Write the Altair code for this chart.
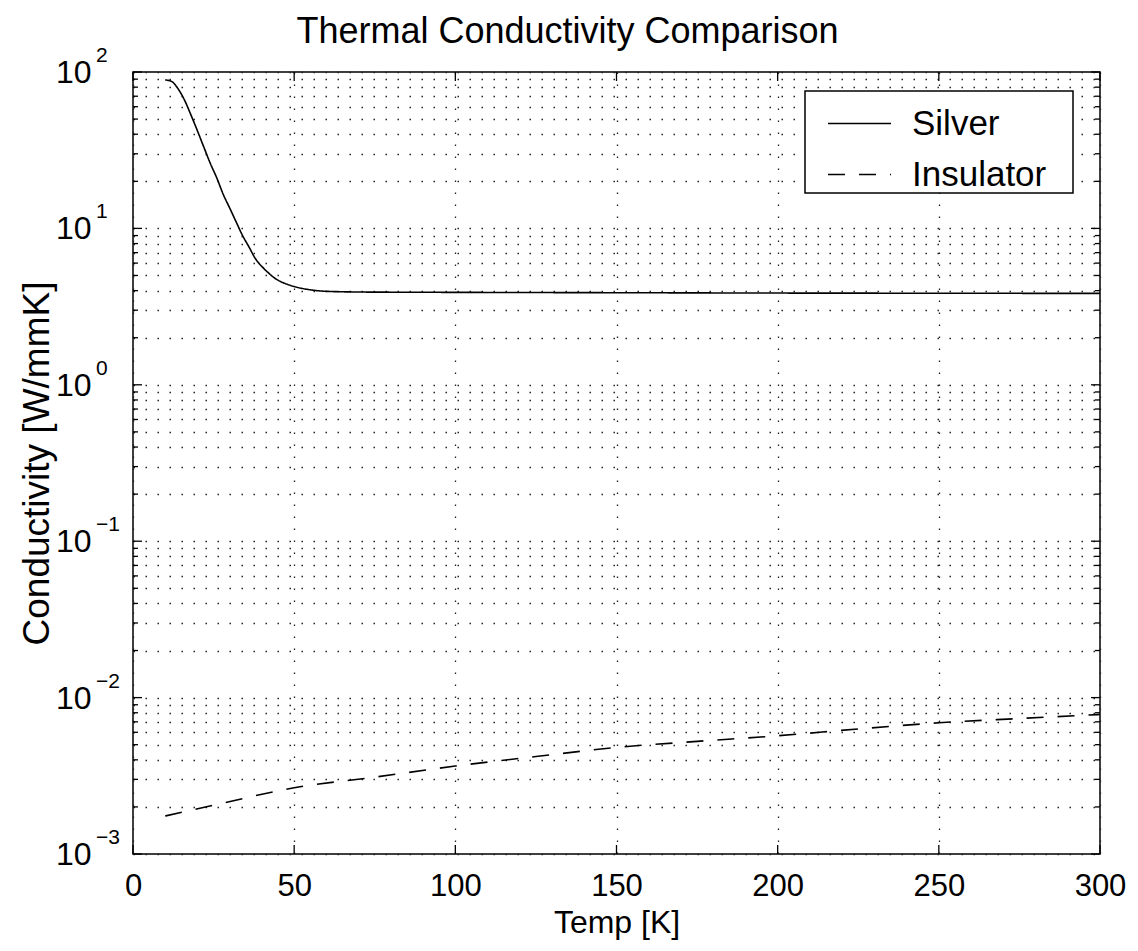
import altair as alt
import pandas as pd

# ---- data ----
silver_T = [10, 12, 14, 16, 18, 20, 22, 24, 26, 28, 30, 32, 34, 36, 38, 40, 42, 44, 46, 48, 50, 55, 60, 70, 80, 100, 150, 200, 250, 300]
silver_k = [89, 87, 78, 66, 53, 42, 33, 26, 21, 16.5, 13.5, 11, 9.0, 7.6, 6.4, 5.7, 5.2, 4.8, 4.55, 4.38, 4.25, 4.05, 3.96, 3.92, 3.91, 3.9, 3.88, 3.86, 3.85, 3.84]

insul_T = [10, 25, 50, 75, 100, 125, 150, 175, 200, 225, 250, 275, 300]
insul_k = [0.00175, 0.00205, 0.00265, 0.0031, 0.00365, 0.0042, 0.0048, 0.00525, 0.0057, 0.0063, 0.0069, 0.00735, 0.0078]

series_names = ["Silver", "Insulator"]
x_ticks = [0, 50, 100, 150, 200, 250, 300]
y_decades = [0.001, 0.01, 0.1, 1, 10, 100]
y_exponents = ["\u22123", "\u22122", "\u22121", "0", "1", "2"]
y_minor_mult = [2, 3, 4, 5, 6, 7, 8, 9]

FONT = "Liberation Sans"
W, H = 967, 782

lines = pd.DataFrame(
    {"T": silver_T + insul_T,
     "k": silver_k + insul_k,
     "series": ["Silver"] * len(silver_T) + ["Insulator"] * len(insul_T)}
)

y_minor = [round(m * d, 6) for d in y_decades[:-1] for m in y_minor_mult]
y_all = sorted(y_decades + y_minor)

dec_df = pd.DataFrame({"k": y_decades, "exp": y_exponents})
minor_df = pd.DataFrame({"k": y_minor})
xt_df = pd.DataFrame({"T": x_ticks})

grid_style = dict(grid=True, gridColor="#222222", gridDash=[1.5, 10.5], gridWidth=1.3, gridOpacity=1)

x_axis = alt.Axis(values=x_ticks, title="Temp [K]", titleFontSize=32, titleFont=FONT,
                  titleFontWeight="normal", titleColor="black", titleX=W / 2, titleY=78,
                  titleBaseline="alphabetic", labelFontSize=31, labelFont=FONT, labelColor="black",
                  labelPadding=41, labelBaseline="alphabetic", ticks=False, domain=False,
                  labelOverlap=False, labelFlush=False, labelBound=False, **grid_style)
y_axis = alt.Axis(values=y_all, title="Conductivity [W/mmK]", titleFontSize=37, titleFont=FONT,
                  titleFontWeight="normal", titleColor="black", titleX=-85, titleY=H / 2,
                  titleAngle=270, titleBaseline="alphabetic", labels=False, ticks=False,
                  domain=False, **grid_style)

x_scale = alt.Scale(domain=[0, 300], nice=False, zero=False)
y_scale = alt.Scale(type="log", domain=[0.001, 100], nice=False)


def X(field="T"):
    return alt.X(f"{field}:Q", scale=x_scale, axis=x_axis)


def Y(field="k"):
    return alt.Y(f"{field}:Q", scale=y_scale, axis=y_axis)


line_layer = alt.Chart(lines).mark_line(color="black", strokeWidth=1.6, interpolate="monotone").encode(
    x=X(), y=Y(),
    strokeDash=alt.StrokeDash(
        "series:N",
        scale=alt.Scale(domain=series_names, range=[[1, 0], [17, 14]]),
        legend=alt.Legend(title=None, orient="none", legendX=672, legendY=19,
                          labelExpr="datum.label + '\u2800'"),
    ),
    detail="series:N",
)

tick_col = "black"
left_major = alt.Chart(dec_df).mark_rule(color=tick_col, strokeWidth=1.3).encode(
    y=Y(), x=alt.value(0), x2=alt.value(9))
right_major = alt.Chart(dec_df).mark_rule(color=tick_col, strokeWidth=1.3).encode(
    y=Y(), x=alt.value(W), x2=alt.value(W - 9))
left_minor = alt.Chart(minor_df).mark_rule(color=tick_col, strokeWidth=1.3).encode(
    y=Y(), x=alt.value(0), x2=alt.value(5))
right_minor = alt.Chart(minor_df).mark_rule(color=tick_col, strokeWidth=1.3).encode(
    y=Y(), x=alt.value(W), x2=alt.value(W - 5))
bottom_ticks = alt.Chart(xt_df).mark_rule(color=tick_col, strokeWidth=1.3).encode(
    x=X(), y=alt.value(H), y2=alt.value(H - 9))
top_ticks = alt.Chart(xt_df).mark_rule(color=tick_col, strokeWidth=1.3).encode(
    x=X(), y=alt.value(0), y2=alt.value(9))

base_lbl = alt.Chart(dec_df).mark_text(align="left", baseline="alphabetic", fontSize=32,
                                       font=FONT, color="black", dy=11).encode(
    y=Y(), x=alt.value(-77), text=alt.value("10"))
exp_lbl = alt.Chart(dec_df).mark_text(align="left", baseline="alphabetic", fontSize=21,
                                      font=FONT, color="black", dy=-10).encode(
    y=Y(), x=alt.value(-37), text="exp:N")

chart = alt.layer(
    line_layer, left_major, right_major, left_minor, right_minor, bottom_ticks, top_ticks,
    base_lbl, exp_lbl,
).properties(
    width=W, height=H,
    background="white",
    title=alt.TitleParams("Thermal Conductivity Comparison", fontSize=36, font=FONT,
                          fontWeight="normal", color="black", anchor="middle", frame="group",
                          dx=-49, dy=36, offset=2, baseline="alphabetic"),
    autosize=alt.AutoSizeParams(type="none"),
    padding={"left": 133, "top": 72, "right": 38, "bottom": 97},
).configure_view(
    stroke="black", strokeWidth=1.5
).configure_legend(
    strokeColor="black", strokeWidth=1.5, fillColor="white", padding=0,
    labelFontSize=35, labelFont=FONT, labelColor="black", labelOffset=20, labelLimit=400,
    symbolType="stroke", symbolSize=3969, symbolStrokeWidth=1.5, symbolStrokeColor="black",
    symbolOffset=22, rowPadding=-31,
)

chart.save("out.html", embed_options={"renderer": "svg", "actions": False})
